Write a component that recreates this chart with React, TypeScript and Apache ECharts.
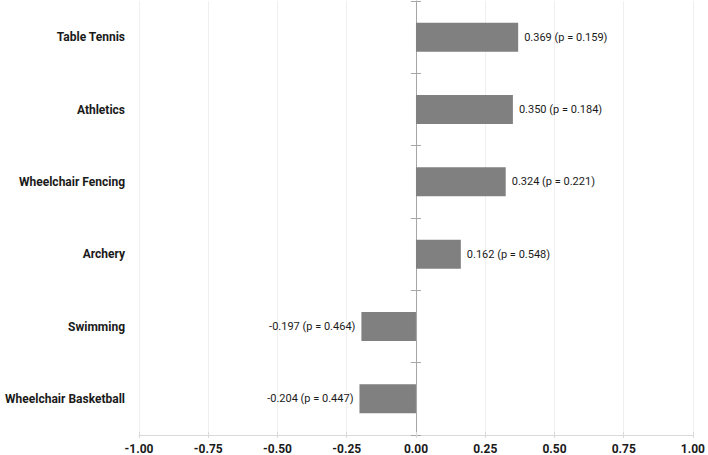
import React, { useEffect, useRef } from "react";
import * as echarts from "echarts";

const categories = [
  "Table Tennis",
  "Athletics",
  "Wheelchair Fencing",
  "Archery",
  "Swimming",
  "Wheelchair Basketball",
];
const values = [0.369, 0.35, 0.324, 0.162, -0.197, -0.204];
const pValues = ["0.159", "0.184", "0.221", "0.548", "0.464", "0.447"];
const xTicks = { min: -1, max: 1, interval: 0.25 };

const FONT = "Roboto, 'Noto Sans', sans-serif";

export default function App() {
  const ref = useRef<HTMLDivElement>(null);
  useEffect(() => {
    if (!ref.current) return;
    const chart = echarts.init(ref.current, undefined, { renderer: "svg" });
    const xBase = {
      type: "value",
      min: xTicks.min,
      max: xTicks.max,
      interval: xTicks.interval,
      position: "bottom",
    };
    chart.setOption({
      animation: false,
      grid: { left: 139, right: 13, top: 1, bottom: 20, containLabel: false },
      xAxis: [
        {
          ...xBase,
          axisLine: { show: true, onZero: false, lineStyle: { color: "#d9d9d9", width: 1 } },
          axisTick: { show: true, inside: false, length: 3, lineStyle: { color: "#d9d9d9" } },
          axisLabel: {
            show: true,
            margin: 8,
            fontFamily: FONT,
            fontSize: 12,
            fontWeight: "bold",
            color: "#1a1a1a",
            formatter: (v: number) => v.toFixed(2),
          },
          splitLine: { show: true, lineStyle: { color: "#f0f0f0", width: 1 } },
        },
        {
          ...xBase,
          axisLine: { show: false, onZero: false },
          axisTick: { show: true, inside: true, length: 3, lineStyle: { color: "#d9d9d9" } },
          axisLabel: { show: false },
          splitLine: { show: false },
        },
      ],
      yAxis: [
        {
          type: "category",
          data: categories,
          inverse: true,
          position: "left",
          axisLine: { show: false, onZero: false },
          axisTick: { show: false },
          axisLabel: {
            margin: 14,
            fontFamily: FONT,
            fontSize: 12,
            fontWeight: "bold",
            color: "#1a1a1a",
          },
          splitLine: { show: false },
        },
        {
          type: "category",
          data: categories,
          inverse: true,
          position: "left",
          axisLine: {
            show: true,
            onZero: true,
            onZeroAxisIndex: 0,
            lineStyle: { color: "#a6a6a6", width: 1 },
          },
          axisTick: { show: true, inside: false, length: 5, lineStyle: { color: "#a6a6a6" } },
          axisLabel: { show: false },
          splitLine: { show: false },
        },
        {
          type: "category",
          data: categories,
          inverse: true,
          position: "right",
          axisLine: { show: false, onZero: true, onZeroAxisIndex: 0 },
          axisTick: { show: true, inside: false, length: 5, lineStyle: { color: "#a6a6a6" } },
          axisLabel: { show: false },
          splitLine: { show: false },
        },
      ],
      series: [
        {
          type: "bar",
          xAxisIndex: 0,
          yAxisIndex: 0,
          barWidth: 29,
          itemStyle: { color: "#808080" },
          data: values.map((v, i) => ({
            value: v,
            label: {
              show: true,
              position: v >= 0 ? "right" : "left",
              distance: 6,
              fontFamily: FONT,
              fontSize: 11,
              color: "#1a1a1a",
              formatter: () => `${v.toFixed(3)} (p = ${pValues[i]})`,
            },
          })),
        },
      ],
    });
    return () => chart.dispose();
  }, []);
  return <div ref={ref} style={{ width: 708, height: 455, position: "absolute", left: 0, top: 0 }} />;
}
